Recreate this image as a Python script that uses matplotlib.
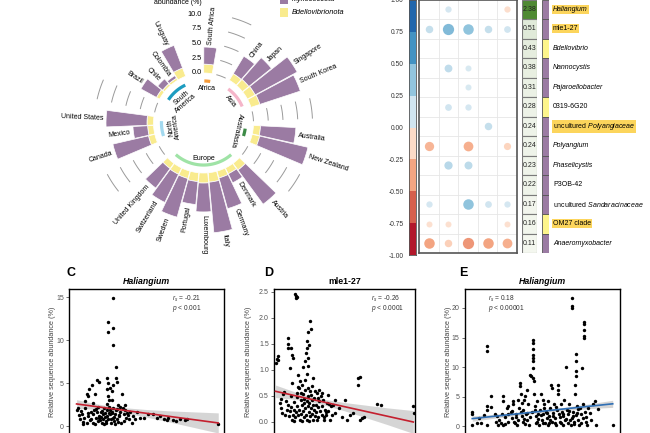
import numpy as np
import matplotlib.pyplot as plt
from matplotlib.patches import Rectangle
from matplotlib.colors import to_rgb

plt.rcParams['font.family'] = ['Liberation Sans', 'DejaVu Sans']
plt.rcParams['mathtext.fontset'] = 'custom'
plt.rcParams['mathtext.rm'] = 'Liberation Sans'
plt.rcParams['mathtext.it'] = 'Liberation Sans:italic'
plt.rcParams['mathtext.bf'] = 'Liberation Sans:bold'

# ---------------- A: circular bar chart ----------------
continents = ['Africa', 'Asia', 'Australasia', 'Europe', 'North\nAmerica', 'South\nAmerica']
n_per_continent = [1, 4, 2, 9, 3, 4]
continent_colors = ['#f59b3a', '#f5b5c9', '#3d8b47', '#9fe3a6', '#a3d9ef', '#1d9cc0']
countries = ['South Africa', 'China', 'Japan', 'Singapore', 'South Korea',
             'Australia', 'New Zealand',
             'Austria', 'Denmark', 'Germany', 'Italy', 'Luxembourg', 'Portugal',
             'Sweden', 'Switzerland', 'United Kingdom',
             'Canada', 'Mexico', 'United States',
             'Brazil', 'Chile', 'Colombia', 'Uruguay']
bdello = [1.5, 1.3, 1.4, 1.5, 1.6, 1.2, 1.3, 1.4, 1.1, 1.2, 1.6, 1.7, 1.5,
          1.3, 1.2, 1.1, 1.1, 1.0, 1.1, 0.6, 0.4, 0.4, 1.5]
myxo = [2.9, 3.45, 4.9, 8.1, 7.2, 6.0, 8.4, 7.2, 1.7, 5.4, 8.6, 4.9, 3.9,
        6.8, 5.3, 4.1, 6.2, 2.5, 6.95, 3.0, 1.1, 0.5, 4.1]
scale_ticks = [0, 2.5, 5, 7.5, 10]

# ---------------- B: correlation dot matrix ----------------
genera = ['Haliangium', 'mle1-27', 'Bdellovibrio', 'Nannocystis', 'Pajaroellobacter',
          '0319-6G20', 'uncultured Polyangiaceae', 'Polyangium', 'Phaselicystis',
          'P3OB-42', 'uncultured Sandaracinaceae', 'OM27 clade', 'Anaeromyxobacter']
mean_abund = [2.38, 0.51, 0.43, 0.38, 0.31, 0.28, 0.24, 0.24, 0.23, 0.22, 0.17, 0.16, 0.11]
phylum = ['M', 'M', 'B', 'M', 'M', 'B', 'M', 'M', 'M', 'M', 'M', 'B', 'M']
highlighted = ['Haliangium', 'mle1-27', 'uncultured Polyangiaceae', 'OM27 clade']
nan = np.nan
corr = [[nan, 0.22, nan, nan, -0.22],
        [0.30, 0.55, 0.50, 0.30, 0.25],
        [nan, nan, nan, nan, nan],
        [nan, 0.32, 0.20, nan, nan],
        [nan, nan, 0.20, nan, nan],
        [nan, 0.25, 0.22, nan, nan],
        [nan, nan, nan, 0.30, nan],
        [-0.42, nan, -0.45, nan, -0.28],
        [nan, 0.35, 0.33, nan, nan],
        [nan, nan, nan, nan, nan],
        [0.22, nan, 0.50, 0.25, 0.22],
        [-0.20, -0.20, nan, nan, -0.20],
        [-0.50, -0.30, -0.55, -0.50, -0.45]]
cbar_colors = ['#b2182b', '#d6604d', '#f4a582', '#fddbc7',
               '#d1e5f0', '#92c5de', '#4393c3', '#2166ac']
cbar_ticks = [-1, -0.75, -0.5, -0.25, 0, 0.25, 0.5, 0.75, 1]

# ---------------- C, D, E: scatter panels ----------------
c_x = [28.4, 25.2, 25.2, 28.4, 28.4, 30.1,
       18.1, 19.4, 24.5, 25.2, 28.0, 30.1, 30.5, 14.4, 12.9, 11.2, 12.3, 16.6, 24.1, 26.2, 27.3,
       33.8, 24.7, 25.6, 27.3, 10.2, 15.5,
       4.7, 5.8, 6.9, 8.0, 8.6, 9.5, 10.3, 11.2, 12.3, 13.3, 13.8, 15.1, 15.5, 16.1, 17.0, 17.6,
       18.3, 18.7, 19.4, 20.2, 20.9, 21.5, 21.9, 22.6, 23.0, 23.4, 24.1, 24.5, 25.2, 25.8, 26.2,
       26.7, 27.3, 28.0, 28.4, 28.8, 29.5, 30.1, 30.5, 31.2, 31.8, 32.7, 33.3, 34.4, 35.3, 35.9,
       36.6, 37.4, 38.7, 39.1, 40.2, 41.3,
       45.6, 48.2, 51.0, 54.2, 56.3, 58.5, 61.1, 62.8, 63.9, 66.7, 68.8, 71.4, 74.6, 75.7, 96.1,
       14.0, 16.8, 19.0, 21.0, 22.2, 23.8, 25.5, 27.0, 29.0, 31.5, 33.0, 35.0, 17.5, 20.5, 24.0,
       26.5, 29.8, 32.0, 12.0, 9.0, 7.5, 6.0, 36.0, 38.0, 42.5, 43.5, 19.8, 23.2, 27.8, 30.8]
c_y = [14.9, 12.1, 11.0, 11.4, 9.5, 6.9,
       5.4, 5.2, 5.6, 5.0, 4.8, 5.6, 5.2, 4.8, 4.3, 3.7, 3.5, 3.8, 4.3, 4.5, 4.1,
       3.7, 3.5, 3.1, 3.1, 3.0, 2.7,
       1.9, 2.1, 0.8, 1.4, 0.5, 1.0, 2.1, 0.4, 1.2, 0.7, 1.7, 1.4, 0.4, 1.9, 1.0, 1.7,
       0.6, 2.3, 1.2, 1.7, 0.4, 1.4, 0.8, 2.1, 1.6, 0.4, 1.2, 1.9, 0.8, 2.3, 1.4,
       0.4, 1.7, 1.0, 2.1, 0.6, 1.4, 1.9, 0.8, 2.5, 1.2, 1.7, 0.4, 2.1, 1.4, 2.5,
       1.0, 1.6, 0.8, 1.7, 0.4, 1.2,
       1.0, 1.0, 1.4, 1.4, 1.0, 1.2, 0.9, 0.7, 1.0, 0.7, 0.6, 0.8, 0.7, 0.8, 0.3,
       0.9, 0.3, 1.0, 1.8, 0.3, 0.6, 1.5, 0.9, 1.1, 0.5, 2.2, 0.6, 2.0, 1.1, 2.6,
       1.9, 0.3, 1.3, 1.6, 0.3, 1.8, 1.3, 1.9, 1.3, 0.9, 1.7, 0.7, 1.1, 1.6, 2.0]
c_fit_x = [4.7, 96.1]
c_fit_y = [2.6, 0.39]
c_band_x = [4.7, 15, 25, 35, 50, 65, 80, 96.1]
c_band_lo = [2.1, 2.0, 1.84, 1.57, 1.05, 0.49, -0.12, -0.78]
c_band_hi = [3.1, 2.7, 2.38, 2.17, 1.95, 1.79, 1.68, 1.56]

d_x = [14.7, 15.2, 15.9, 15.4, 0.9, 1.7, 2.4, 2.8,
       10.0, 9.5, 10.0, 11.8, 12.8, 13.5, 11.1,
       25.4, 26.1, 23.7, 23.0, 24.6, 23.0, 22.5, 23.7, 21.8, 24.2, 20.6, 23.0, 17.1, 27.7,
       59.7, 60.9, 59.2, 50.2, 72.7, 75.8, 98.8, 99.3,
       51.4, 53.8, 56.2, 60.9, 62.1, 64.0, 46.0, 47.9, 43.1, 41.9, 37.9, 43.1,
       4, 4.7, 5.7, 6.4, 7.1, 7.6, 8.8, 9.5, 10.4, 11.1,
       11.8, 12.3, 13, 13.7, 14.2, 14.7, 15.4, 15.9, 16.4, 17.1,
       17.5, 17.8, 18.2, 18.7, 18.96, 19.4, 19.7, 20.1, 20.6, 20.9,
       21.3, 21.8, 22, 22.5, 23, 23.2, 23.7, 24.2, 24.4, 24.9,
       25.4, 25.6, 26.1, 26.5, 27, 27.3, 27.7, 28.2, 28.4, 28.9,
       29.4, 29.9, 30.1, 30.8, 31.3, 31.8, 32.5, 33.2, 33.6, 34.1,
       34.8, 35.5, 36, 36.7, 37.2, 38.4, 39.6, 40.3, 41.2,
       5, 8, 12, 16, 19, 21, 24, 26, 29, 31, 34, 37, 18, 22, 27, 32, 14, 20, 25, 30,
       12.5, 16.8, 35.5, 39]
d_y = [2.46, 2.43, 2.41, 2.38, 1.13, 1.22, 1.26, 1.20,
       1.62, 1.50, 1.42, 1.42, 1.28, 1.23, 1.04,
       1.94, 1.78, 1.74, 1.55, 1.49, 1.42, 1.33, 1.24, 1.17, 1.07, 1.05, 0.92, 0.91, 0.85,
       0.85, 0.86, 0.72, 0.43, 0.35, 0.32, 0.30, 0.17,
       0.04, 0.14, 0.17, 0.04, 0.08, 0.09, 0.27, 0.09, 0.17, 0.33, 0.51, 0.43,
       0.37, 0.27, 0.17, 0.53, 0.58, 0.14, 0.24, 0.33, 0.11, 0.21,
       0.28, 0.04, 0.14, 0.24, 0.38, 0.09, 0.19, 0.56, 0.30, 0.13,
       0.65, 0.24, 0.04, 0.43, 0.15, 0.72, 0.32, 0.21, 0.53, 0.09,
       0.37, 0.27, 0.62, 0.14, 0.41, 0.04, 0.30, 0.50, 0.19, 0.37,
       0.11, 0.59, 0.27, 0.43, 0.15, 0.33, 0.04, 0.24, 0.46, 0.11,
       0.33, 0.19, 0.56, 0.28, 0.09, 0.40, 0.21, 0.50, 0.14, 0.30,
       0.43, 0.04, 0.24, 0.14, 0.37, 0.21, 0.04, 0.30, 0.14,
       0.45, 0.40, 0.50, 0.48, 0.55, 0.44, 0.66, 0.52, 0.60, 0.47, 0.55, 0.20, 0.78, 0.80,
       0.70, 0.62, 0.02, 0.01, 0.02, 0.03, 0.75, 0.68, 0.10, 0.35]
d_fit_x = [0.9, 98.8]
d_fit_y = [0.59, 0.0]
d_band_x = [0.9, 15, 25, 35, 50, 65, 80, 98.8]
d_band_lo = [0.47, 0.435, 0.395, 0.33, 0.214, 0.084, -0.047, -0.22]
d_band_hi = [0.71, 0.575, 0.495, 0.44, 0.374, 0.324, 0.273, 0.22]

e_x = [4.7, 4.7, 4.7, 9.2, 10.1, 14, 14, 14, 14, 14,
       16.6, 19.4, 20.4, 20, 21.5, 22.2, 23.7, 23.2, 24.7, 24.7,
       24.3, 26.9, 28, 28, 29.5, 30.1, 30.8, 31.2, 31.6, 32.9,
       33.3, 34, 34.4, 35.1, 35.5, 35.5, 35.9, 36.6, 37.2, 37.6,
       38.3, 38.7, 39.4, 39.8, 40.2, 40.9, 41.5, 41.9, 42.6, 43,
       43.7, 44.1, 44.1, 44.1, 44.1, 44.1, 44.1, 43.7, 44.5, 44.7,
       45.2, 45.6, 46.2, 46.7, 47.3, 48, 48.4, 49, 49.5, 50.1,
       50.5, 51.2, 51.6, 52.3, 52.7, 53.3, 53.8, 54.4, 54.8, 55.5,
       55.9, 56.3, 57, 57.6, 58.1, 58.7, 59.1, 59.8, 60.2, 60.2,
       60.9, 61.3, 61.7, 62.4, 63, 63.4, 63.9, 64.5, 64.9, 65.6,
       66.2, 66.7, 67.3, 67.7, 68.2, 68.8, 68.8, 69, 69.5, 69.9,
       70.5, 71, 71, 71.4, 71.6, 71.6, 71.4, 72, 72.5, 73.1,
       73.8, 74.2, 74.6, 75.3, 75.9, 76.3, 76.8, 76.8, 76.8, 77,
       77, 77.4, 77.8, 78.5, 79.6, 80.6, 82.8, 83.9, 84.5, 95.7,
       8, 12, 17, 25.5, 27.5, 30, 33, 36, 38, 40,
       42, 45, 47, 49, 51, 53, 55, 57, 59, 61,
       63, 65, 67, 69, 71.5, 73, 75, 78, 81, 86,
       26, 32, 39, 46, 54, 62, 70, 58, 50, 37]
e_y = [2.4, 2.0, 0.3, 1.4, 0.6, 13.5, 12.7, 3.4, 2.8, 0.3,
       5.1, 2.1, 1.7, 0.8, 0.3, 1.1, 2.0, 0.6, 5.1, 4.2,
       0.3, 3.1, 2.0, 0.8, 2.5, 1.4, 3.8, 4.2, 0.7, 2.0,
       0.3, 1.1, 4.5, 3.1, 7.3, 6.8, 5.4, 1.7, 0.8, 2.8,
       4.5, 5.1, 2.0, 6.2, 1.1, 3.7, 0.3, 8.7, 8.5, 2.5,
       14.6, 14.1, 13.0, 12.1, 11.5, 11.0, 9.9, 8.2, 7.6, 5.4,
       3.4, 1.7, 0.8, 4.2, 2.0, 0.3, 2.8, 5.4, 1.1, 4.5,
       2.0, 3.7, 0.6, 2.5, 1.4, 4.2, 0.3, 1.7, 3.1, 7.0,
       6.5, 0.8, 2.3, 3.8, 1.4, 0.3, 2.8, 7.0, 6.2, 5.4,
       2.0, 0.8, 3.7, 2.5, 0.3, 1.7, 4.5, 1.1, 10.1, 2.8,
       0.6, 2.0, 3.7, 1.1, 0.3, 21.7, 20.3, 20.0, 2.5, 1.7,
       0.8, 5.4, 7.0, 8.5, 9.3, 11.0, 12.2, 3.4, 2.3, 1.1,
       0.3, 3.1, 2.0, 9.9, 1.4, 3.7, 17.7, 17.2, 16.3, 15.2,
       14.9, 2.5, 0.8, 0.3, 3.1, 2.3, 3.7, 4.2, 0.3, 0.3,
       0.5, 1.9, 3.2, 1.5, 3.5, 2.6, 1.6, 2.4, 1.3, 2.2,
       1.5, 2.7, 1.2, 1.9, 3.1, 2.2, 1.0, 1.8, 3.3, 1.6,
       2.1, 1.3, 2.6, 1.4, 1.9, 3.0, 0.6, 1.5, 1.0, 2.9,
       0.4, 0.5, 0.4, 0.5, 0.6, 0.5, 0.4, 0.5, 0.6, 4.0]
e_fit_x = [4.7, 95.3]
e_fit_y = [1.3, 3.8]
e_band_x = [4.7, 20, 35, 50, 65, 80, 95.3]
e_band_lo = [0.85, 1.4, 1.89, 2.33, 2.68, 2.98, 3.2]
e_band_hi = [1.75, 2.04, 2.39, 2.77, 3.24, 3.78, 4.4]

W, H = 650, 433
fig = plt.figure(figsize=(6.5, 4.33), dpi=100)


def box(l, t, r, b):
    return [l / W, 1 - b / H, (r - l) / W, (b - t) / H]


def ftext(x, y, s, **kw):
    return fig.text(x / W, 1 - y / H, s, **kw)


PURPLE = '#9b7ba3'
YELLOW = '#f9eb8e'

# ---- circular bars ----
n_slots = 35
step = 2 * np.pi / n_slots
slots, group_ranges = [], []
s = 0
for n in n_per_continent:
    group_ranges.append((s, s + n - 1))
    slots += list(range(s, s + n))
    s += n + 2
theta = (np.array(slots) + 0.5) * step

px_per = 5.9
r_in, r_out = -50 / px_per, 14
R = (r_out - r_in) * px_per
cx, cy = 203.5, 123
ax = fig.add_axes(box(cx - R, cy - R, cx + R, cy + R), projection='polar')
ax.set_theta_zero_location('N')
ax.set_theta_direction(-1)
ax.set_ylim(r_in, r_out)
ax.axis('off')

ax.bar(theta, bdello, width=step * 0.95, bottom=0, color=YELLOW, edgecolor='white', lw=0.5)
ax.bar(theta, myxo, width=step * 0.95, bottom=bdello, color=PURPLE, edgecolor='white', lw=0.5)

total = np.array(bdello) + np.array(myxo)
for t, name, h in zip(theta, countries, total):
    deg = np.degrees(t)
    if deg <= 180.5:
        rot, ha = 90 - deg, 'left'
    else:
        rot, ha = 270 - deg, 'right'
    ax.text(t, h + 0.5, name, rotation=rot, rotation_mode='anchor',
            ha=ha, va='center', fontsize=5)

cont_rot = [0, -51, -103, 0, 98, 41]
cont_r = [-2.6, -2.6, -2.7, -2.5, -3.4, -3.4]
for (a, b), col, lab, rot, rr in zip(group_ranges, continent_colors, continents, cont_rot, cont_r):
    t0, t1 = (a + 0.5) * step, (b + 0.5) * step
    if a == b:
        t0 -= 0.07
        t1 += 0.07
    tt = np.linspace(t0, t1, 40)
    ax.plot(tt, np.full_like(tt, -1.35), color=col, lw=2.3, solid_capstyle='butt')
    ax.text((t0 + t1) / 2, rr, lab, rotation=rot, ha='center', va='center',
            fontsize=5, linespacing=0.95)

for (a, b) in group_ranges[:-1]:
    tt = np.linspace((b + 1.5) * step, (b + 2.5) * step, 20)
    for v in scale_ticks:
        ax.plot(tt, np.full_like(tt, v), color='#9a9a9a', lw=0.7)

for v in scale_ticks:
    ax.annotate(f'{v:.1f}', xy=(0, v), xytext=(-1.2, 0), textcoords='offset points',
                ha='right', va='center', fontsize=5.3)

ftext(178, 3, 'abundance (%)', ha='center', va='center', fontsize=5)
fig.patches.append(Rectangle((280 / W, 1 - 3.5 / H), 8 / W, 8.5 / H, transform=fig.transFigure,
                             facecolor=PURPLE, edgecolor='none'))
fig.patches.append(Rectangle((280 / W, 1 - 16.5 / H), 8 / W, 8.5 / H, transform=fig.transFigure,
                             facecolor=YELLOW, edgecolor='none'))
ftext(292, -0.5, 'Myxococcota', style='italic', ha='left', va='center', fontsize=5.3)
ftext(292, 12.5, 'Bdellovibrionota', style='italic', ha='left', va='center', fontsize=5.3)

# ---- colorbar ----
cax = fig.add_axes(box(409, 0, 416, 255))
edges = np.linspace(-1, 1, 9)
for k, col in enumerate(cbar_colors):
    cax.axhspan(edges[k], edges[k + 1], color=col, lw=0)
cax.set_ylim(-1, 1)
cax.set_xlim(0, 1)
cax.set_xticks([])
cax.set_yticks(cbar_ticks)
cax.set_yticklabels([f'{v:.2f}' for v in cbar_ticks])
cax.tick_params(axis='y', length=0, pad=4, labelsize=4.8, labelcolor='#333333')
for sp in cax.spines.values():
    sp.set_color('#555555')
    sp.set_linewidth(0.6)

# ---- dot matrix ----
top_px, row_h = -0.5, 19.5
n_rows = len(genera)
bottom_px = top_px + row_h * n_rows
mx = fig.add_axes(box(419, top_px, 517, bottom_px))
mx.set_xlim(0.5, 5.5)
mx.set_ylim(n_rows + 0.5, 0.5)
for k in range(1, 5):
    mx.axvline(k + 0.5, color='#e6e6e6', lw=0.6)
for k in range(1, n_rows):
    mx.axhline(k + 0.5, color='#e6e6e6', lw=0.6)
cm = plt.get_cmap('RdBu')
for i, row in enumerate(corr):
    for j, v in enumerate(row):
        if np.isnan(v):
            continue
        rad = 1.5 + 7.5 * abs(v)
        mx.scatter(j + 1, i + 1, s=(2 * rad * 0.72) ** 2, color=cm(0.5 + 0.4 * v),
                   lw=0, zorder=3)
mx.set_xticks([])
mx.set_yticks([])
for sp in mx.spines.values():
    sp.set_color('#555555')
    sp.set_linewidth(1.2)

# ---- mean abundance column ----
vx = fig.add_axes(box(521.7, top_px, 536.7, bottom_px))
vx.set_xlim(0, 1)
vx.set_ylim(n_rows, 0)
lo_c, hi_c = np.array(to_rgb('#f7f9f3')), np.array(to_rgb('#4f8a33'))
vmax = max(mean_abund)
for i, v in enumerate(mean_abund):
    f = (v / vmax) ** 1.3
    vx.add_patch(Rectangle((0, i), 1, 1, facecolor=lo_c + (hi_c - lo_c) * f,
                           edgecolor='#7a7a7a', lw=0.8))
    vx.text(0.5, i + 0.5, f'{v:.2f}', ha='center', va='center', fontsize=5, color='#222222')
vx.axis('off')

# ---- phylum strip ----
px_ax = fig.add_axes(box(542, top_px, 549.3, bottom_px))
px_ax.set_xlim(0, 1)
px_ax.set_ylim(n_rows, 0)
for i, p in enumerate(phylum):
    px_ax.add_patch(Rectangle((0, i), 1, 1, facecolor=PURPLE if p == 'M' else '#fdf58c',
                              edgecolor='#555555', lw=0.6))
px_ax.axis('off')

upright = ['mle1-27', '0319-6G20', 'P3OB-42', 'OM27 clade']
for i, g in enumerate(genera):
    y = top_px + row_h * (i + 0.5)
    kw = dict(ha='left', va='center', fontsize=5)
    if g.startswith('uncultured '):
        label = 'uncultured $\\mathit{' + g.split(' ')[1] + '}$'
    elif g in upright:
        label = g
    else:
        label = g
        kw['style'] = 'italic'
    if g in highlighted:
        kw['bbox'] = dict(facecolor='#fcd55c', edgecolor='none', pad=0.7)
    ftext(553, y, label, **kw)


# ---- scatter panels ----
def scatter_panel(l, r, zero_px, px_unit, ylo, xs, ys, ticks, tlabels,
                  fx, fy, bx, blo, bhi, lcol, title, title_it, letter, lx, ylx, stat_x, stat):
    top = 288.7
    ytop = (zero_px - top) / px_unit
    bot = zero_px - ylo * px_unit
    a = fig.add_axes(box(l, top, r, bot))
    a.fill_between(bx, blo, bhi, color='#c8c8c8', alpha=0.75, lw=0, zorder=1)
    a.scatter(xs, ys, s=6, color='black', lw=0, zorder=2)
    a.plot(fx, fy, color=lcol, lw=1.2, zorder=3)
    a.set_xlim(0, 100)
    a.set_ylim(ylo, ytop)
    a.set_xticks([])
    a.set_yticks(ticks)
    a.set_yticklabels(tlabels)
    a.tick_params(axis='y', length=2, width=0.6, pad=2, labelsize=5, labelcolor='#555555',
                  color='#555555')
    for sp in a.spines.values():
        sp.set_linewidth(1.0)
    ftext((l + r) / 2, 281.5, title, ha='center', va='center', fontsize=6.3,
          fontweight='bold', style='italic' if title_it else 'normal')
    ftext(lx, 273, letter, ha='center', va='center', fontsize=9, fontweight='bold')
    ftext(ylx, 362, 'Relative sequence abundance (%)', rotation=90, ha='center', va='center',
          fontsize=5.2, color='#444444')
    ftext(stat_x, 298.5, stat[0], ha='left', va='center', fontsize=4.8, color='#333333')
    ftext(stat_x, 308.5, stat[1], ha='left', va='center', fontsize=4.8, color='#333333')


scatter_panel(69.3, 224.3, 426.3, 8.6, -1.0, c_x, c_y, [0, 5, 10, 15], ['0', '5', '10', '15'],
              c_fit_x, c_fit_y, c_band_x, c_band_lo, c_band_hi, '#c4202f',
              'Haliangium', True, 'C', 71, 52.3, 171.5, [r'$r_s$ = -0.21', r'$p$ < 0.001'])
scatter_panel(274.3, 415, 422, 52, -0.25, d_x, d_y, [0, 0.5, 1, 1.5, 2, 2.5],
              ['0.0', '0.5', '1.0', '1.5', '2.0', '2.5'],
              d_fit_x, d_fit_y, d_band_x, d_band_lo, d_band_hi, '#c4202f',
              'mle1-27', False, 'D', 268.5, 249, 371, [r'$r_s$ = -0.26', r'$p$ < 0.0001'])
scatter_panel(465, 620, 426.3, 5.92, -1.5, e_x, e_y, [0, 5, 10, 15, 20],
              ['0', '5', '10', '15', '20'],
              e_fit_x, e_fit_y, e_band_x, e_band_lo, e_band_hi, '#2f6fb5',
              'Haliangium', True, 'E', 463, 448.3, 488, [r'$r_s$ = 0.18', r'$p$ < 0.00001'])

fig.savefig('out.png', dpi=100)
